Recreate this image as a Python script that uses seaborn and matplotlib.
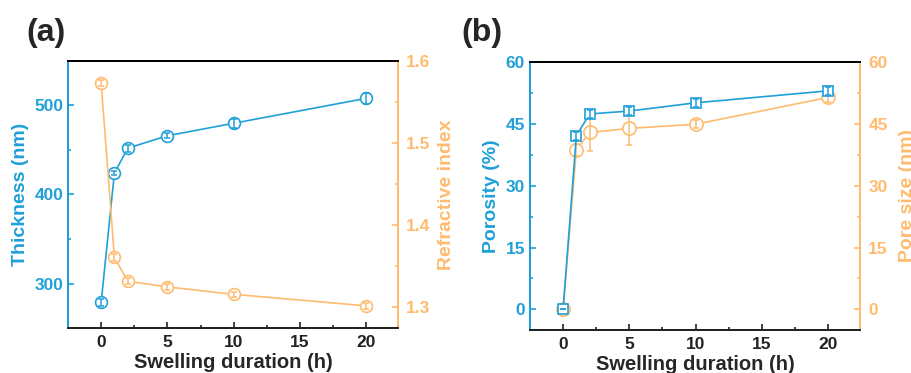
import matplotlib
matplotlib.use("Agg")
import matplotlib.pyplot as plt
import seaborn as sns
import pandas as pd
from matplotlib.ticker import MultipleLocator

# data
hours = [0, 1, 2, 5, 10, 20]
thickness = [279, 424, 452, 466, 480, 508]
thickness_err = [4, 2, 4, 3, 5, 6]
ref_index = [1.573, 1.361, 1.332, 1.325, 1.316, 1.302]
ref_index_err = [0.004, 0.004, 0.004, 0.004, 0.003, 0.004]
porosity = [0, 42.1, 47.4, 48.1, 50.1, 53.0]
porosity_err = [0, 1.0, 1.0, 1.0, 1.0, 1.0]
pore_size = [0, 38.7, 42.9, 43.9, 44.9, 51.4]
pore_size_err = [0, 1.5, 4.5, 4.0, 1.0, 1.0]

blue = "#1fa0d8"
orange = "#ffbb6e"

sns.set_style("ticks")
plt.rcParams["font.family"] = ["Liberation Sans", "DejaVu Sans"]
plt.rcParams["font.weight"] = "bold"
plt.rcParams["axes.labelweight"] = "bold"

df = pd.DataFrame({"h": hours, "thick": thickness, "n": ref_index,
                   "por": porosity, "pore": pore_size})

fig = plt.figure(figsize=(9.12, 3.73), dpi=100)
ax1 = fig.add_axes([0.0746, 0.1206, 0.3618, 0.716])
ax3 = fig.add_axes([0.5811, 0.1153, 0.3618, 0.7185])


def series(ax, y, err, color, marker, ms):
    sns.lineplot(data=df, x="h", y=y, ax=ax, color=color, lw=1.2,
                 marker=marker, markersize=ms, markerfacecolor="white",
                 markeredgecolor=color, markeredgewidth=1.2, zorder=2)
    ax.errorbar(df["h"], df[y], yerr=err, fmt="none", ecolor=color,
                elinewidth=1.1, capsize=2.5, capthick=1.1, zorder=3)


def style(ax, ax2, lcolor, rcolor):
    for a in (ax, ax2):
        for s in a.spines.values():
            s.set_linewidth(1.4)
        a.spines["top"].set_color("black")
        a.spines["bottom"].set_color("#222222")
        a.spines["left"].set_color(lcolor)
        a.spines["right"].set_color(rcolor)
    ax.set_xlim(-2.5, 22.4)
    ax.xaxis.set_major_locator(MultipleLocator(5))
    ax.xaxis.set_minor_locator(MultipleLocator(2.5))
    ax.tick_params(axis="x", which="both", direction="in", top=False,
                   labelsize=12.5, colors="#222222", width=1.2, pad=5)
    ax.tick_params(axis="x", which="major", length=4)
    ax.tick_params(axis="x", which="minor", length=2.5)
    ax.tick_params(axis="y", which="both", direction="in", colors=lcolor,
                   labelcolor=lcolor, labelsize=12.5, width=1.2)
    ax.tick_params(axis="y", which="major", length=4)
    ax.tick_params(axis="y", which="minor", length=2.5)
    ax2.tick_params(axis="y", which="both", direction="in", colors=rcolor,
                    labelcolor=rcolor, labelsize=12.5, width=1.2, pad=6)
    ax2.tick_params(axis="y", which="major", length=4)
    ax2.tick_params(axis="y", which="minor", length=2.5)
    ax.set_xlabel("Swelling duration (h)", fontsize=14.5, labelpad=2)
    for lab in ax.get_xticklabels() + ax.get_yticklabels() + ax2.get_yticklabels():
        lab.set_fontweight("bold")


# panel (a)
ax2 = ax1.twinx()
series(ax1, "thick", thickness_err, blue, "o", 8.5)
series(ax2, "n", ref_index_err, orange, "o", 8.5)
ax1.set_ylim(250, 550)
ax2.set_ylim(1.275, 1.6)
ax1.yaxis.set_major_locator(MultipleLocator(100))
ax1.yaxis.set_minor_locator(MultipleLocator(50))
ax2.yaxis.set_major_locator(MultipleLocator(0.1))
ax2.yaxis.set_minor_locator(MultipleLocator(0.05))
style(ax1, ax2, blue, orange)
ax1.set_ylabel("Thickness (nm)", color=blue, fontsize=14, labelpad=4)
ax2.set_ylabel("Refractive index", color=orange, fontsize=14, labelpad=5)

# panel (b)
ax4 = ax3.twinx()
series(ax4, "pore", pore_size_err, orange, "o", 9.5)
series(ax3, "por", porosity_err, blue, "s", 6.5)
ax3.set_zorder(ax4.get_zorder() + 1)
ax3.patch.set_visible(False)
for a in (ax3, ax4):
    a.set_ylim(-5, 60)
    a.yaxis.set_major_locator(MultipleLocator(15))
    a.yaxis.set_minor_locator(MultipleLocator(7.5))
style(ax3, ax4, blue, orange)
ax3.set_ylabel("Porosity (%)", color=blue, fontsize=14, labelpad=4)
ax4.set_ylabel("Pore size (nm)", color=orange, fontsize=14, labelpad=8)

fig.text(0.029, 0.89, "(a)", fontsize=23, fontweight="bold")
fig.text(0.506, 0.89, "(b)", fontsize=23, fontweight="bold")

fig.savefig("out.png", dpi=100)
